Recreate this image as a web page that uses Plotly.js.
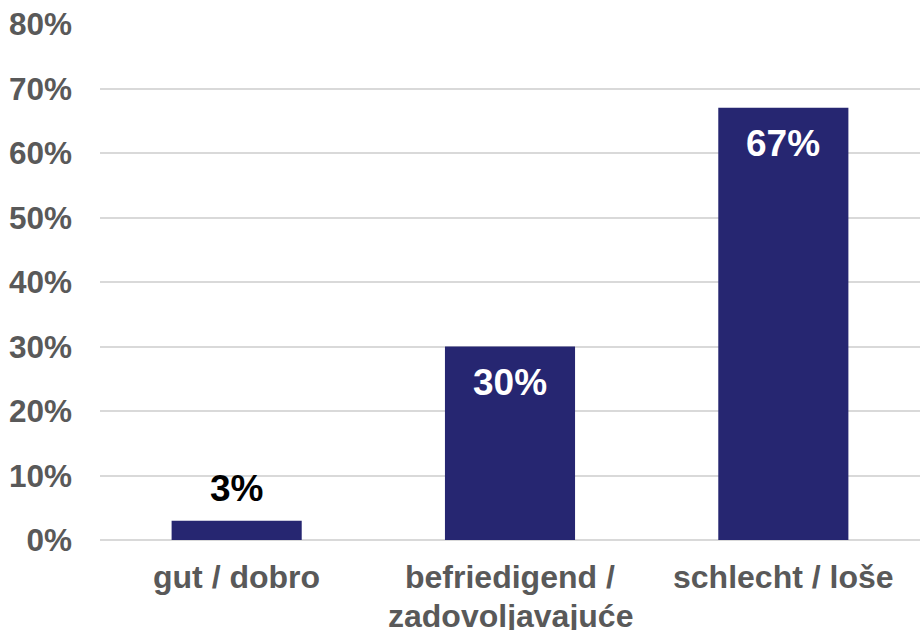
<!DOCTYPE html>
<html>
<head>
<meta charset="utf-8">
<script src="https://cdn.plot.ly/plotly-3.0.1.min.js"></script>
<style>html,body{margin:0;padding:0;background:#fff;}#chart{width:920px;height:630px;}</style>
</head>
<body>
<div id="chart"></div>
<script>
const categories = ['gut / dobro', 'befriedigend /<br>zadovoljavajuće', 'schlecht / loše'];
const values = [3, 30, 67];
const valueLabels = ['3%', '30%', '67%'];
const yTickVals = [0, 10, 20, 30, 40, 50, 60, 70, 80];
const yTickText = ['0%', '10%', '20%', '30%', '40%', '50%', '60%', '70%', '80%'];

const FONT = 'Liberation Sans, Arial, sans-serif';
const barColor = '#262671';
const catFont = {family: FONT, size: 32, weight: 'bold', color: '#595959'};

const annotations = values.map((v, i) => {
  const outside = v < 10;
  return {
    x: categories[i], y: v, xref: 'x', yref: 'y',
    text: valueLabels[i], showarrow: false,
    yshift: outside ? 32 : -36,
    font: {family: FONT, size: 37, weight: 'bold', color: outside ? '#000000' : '#ffffff'}
  };
});

// category labels: one annotation per line, tighter line spacing than Plotly's default
categories.forEach((c) => {
  c.split('<br>').forEach((line, j) => {
    annotations.push({
      x: c, y: 0, xref: 'x', yref: 'y', yanchor: 'top',
      text: line, showarrow: false,
      yshift: -17 - 39 * j,
      font: catFont
    });
  });
});

Plotly.newPlot('chart', [{
  type: 'bar', x: categories, y: values,
  marker: {color: barColor, line: {width: 0}},
  hoverinfo: 'none'
}], {
  width: 920, height: 630,
  margin: {l: 100, r: 0, t: 24, b: 90, pad: 0},
  paper_bgcolor: '#ffffff', plot_bgcolor: '#ffffff',
  bargap: 0.524,
  showlegend: false,
  font: {family: FONT, size: 31, weight: 'bold', color: '#595959'},
  xaxis: {
    type: 'category', showgrid: false, zeroline: false, showline: false,
    ticks: '', showticklabels: false
  },
  yaxis: {
    range: [0, 80], tickvals: yTickVals, ticktext: yTickText,
    showgrid: true, gridcolor: '#d9d9d9', gridwidth: 2,
    zeroline: true, zerolinecolor: '#d9d9d9', zerolinewidth: 2,
    showline: false, ticks: '', ticklabelstandoff: 27,
    tickfont: {family: FONT, size: 31.5, weight: 'bold', color: '#595959'}
  },
  annotations: annotations
}, {staticPlot: true, displayModeBar: false});
</script>
</body>
</html>
